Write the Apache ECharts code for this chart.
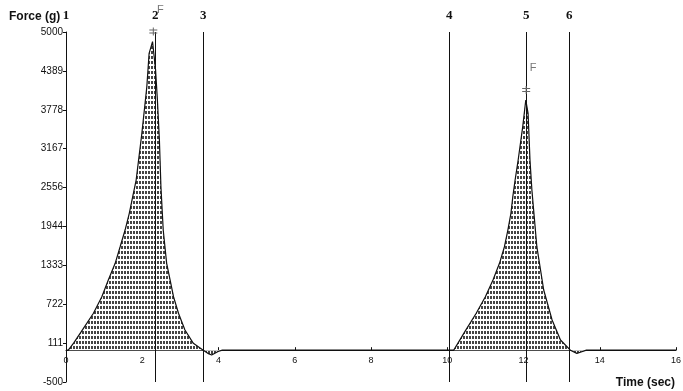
<!DOCTYPE html>
<html><head><meta charset="utf-8">
<script src="https://cdn.jsdelivr.net/npm/echarts@6/dist/echarts.min.js"></script>
<style>html,body{margin:0;padding:0;background:#fff}#c{width:683px;height:391px}</style>
</head><body><div id="c"></div>
<script>
// Time (sec) and force (g)
const timeSec = [0, 0.06, 0.2, 0.41, 0.72, 0.94, 1.11, 1.29, 1.42, 1.55, 1.66, 1.75, 1.84, 1.99, 2.12, 2.18, 2.27, 2.31, 2.35, 2.40, 2.45, 2.49, 2.55, 2.64, 2.73, 2.82, 2.95, 3.12, 3.34, 3.6, 3.72, 3.82, 3.99, 4.1,
  10.17, 10.25, 10.47, 10.76, 11.0, 11.2, 11.37, 11.5, 11.59, 11.67, 11.72, 11.78, 11.86, 11.98, 12.06, 12.09, 12.12, 12.17, 12.22, 12.35, 12.53, 12.75, 12.97, 13.23, 13.4, 13.53, 13.65, 16];
const forceG = [0, 0, 110, 300, 580, 840, 1103, 1365, 1626, 1888, 2151, 2412, 2674, 3408, 4140, 4665, 4850, 4850, 4400, 3900, 3300, 2569, 1888, 1365, 1103, 840, 580, 317, 108, 0, -50, -76, -20, 0,
  0, 80, 300, 580, 840, 1103, 1365, 1626, 1888, 2151, 2412, 2674, 2988, 3512, 3931, 3931, 3722, 2988, 2517, 1626, 946, 474, 160, 0, -50, -25, 0, 0];
const yTickLabels = ['-500', '111', '722', '1333', '1944', '2556', '3167', '3778', '4389', '5000'];
const xTickLabels = ['0', '2', '4', '6', '8', '10', '12', '14', '16'];
const markerTimes = [0, 2.34, 3.6, 10.05, 12.07, 13.2];
const markerLabels = ['1', '2', '3', '4', '5', '6'];
const peakTimes = [2.29, 12.07];
const peakForces = [4850, 3931];

const yMin = -500, yMax = 5000;
const yStep = (yMax - yMin) / (yTickLabels.length - 1);
const yTickValues = yTickLabels.map((_, i) => yMin + i * yStep);

const pc = document.createElement('canvas');
pc.width = 3; pc.height = 5;
const pctx = pc.getContext('2d');
pctx.fillStyle = '#ffffff'; pctx.fillRect(0, 0, 3, 5);
pctx.fillStyle = '#444444'; pctx.fillRect(1, 1, 2, 3);

const chart = echarts.init(document.getElementById('c'), null, {renderer: 'canvas'});
const markerPath = 'path://M0,2L8,2L8,3L0,3Z M0,5L8,5L8,6L0,6Z M3.5,0L4.5,0L4.5,8L3.5,8Z';
const peakPoints = [];
peakTimes.forEach((t, i) => {
  peakPoints.push({coord: [t, peakForces[i]], symbol: markerPath, symbolSize: [8, 8], symbolOffset: [0, -10], itemStyle: {color: '#666'}, label: {show: false}});
  peakPoints.push({coord: [t, peakForces[i]], symbol: 'circle', symbolSize: 0, label: {show: true, formatter: 'F', offset: [7, -32], color: '#777', fontSize: 11, fontFamily: 'Liberation Sans'}});
});

chart.setOption({
  animation: false,
  backgroundColor: '#ffffff',
  title: [
    {text: 'Force (g)', left: 4, top: 6, textStyle: {fontFamily: 'Liberation Sans', fontWeight: 'bold', fontSize: 12, color: '#111'}},
    {text: 'Time (sec)', right: 3, top: 372, textStyle: {fontFamily: 'Liberation Sans', fontWeight: 'bold', fontSize: 12, color: '#111'}}
  ],
  grid: [
    {left: 66, right: 7, top: 32, bottom: 9, outerBoundsMode: 'none', containLabel: false},
    {left: 66, right: 7, top: 32, bottom: 40, outerBoundsMode: 'none', containLabel: false}
  ],
  xAxis: [{
    type: 'value', min: 0, max: 16, interval: 2, gridIndex: 0,
    axisLine: {onZero: true, lineStyle: {color: '#111', width: 1}},
    axisTick: {inside: true, length: 3, lineStyle: {color: '#111'}},
    axisLabel: {show: false},
    splitLine: {show: false}
  }, {
    type: 'value', min: 0, max: 16, interval: 2, gridIndex: 1, position: 'bottom',
    axisLine: {show: false, onZero: false},
    axisTick: {show: false},
    axisLabel: {margin: 5, fontSize: 9, color: '#111', fontFamily: 'Liberation Sans',
      formatter: v => xTickLabels[Math.round(v / 2)]},
    splitLine: {show: false}
  }],
  yAxis: [{
    type: 'value', min: yMin, max: yMax, gridIndex: 0,
    axisLine: {show: true, onZero: false, lineStyle: {color: '#111', width: 1}},
    axisTick: {show: true, length: 3, customValues: yTickValues, lineStyle: {color: '#111'}},
    axisLabel: {margin: 3, fontSize: 10, color: '#111', fontFamily: 'Liberation Sans', customValues: yTickValues,
      formatter: v => yTickLabels[Math.round((v - yMin) / yStep)]},
    splitLine: {show: false}
  }, {
    type: 'value', min: 0, max: 1, gridIndex: 1, show: false
  }],
  series: [{
    type: 'line',
    xAxisIndex: 0, yAxisIndex: 0,
    data: timeSec.map((t, i) => [t, forceG[i]]),
    showSymbol: false,
    lineStyle: {color: '#111', width: 1.2},
    areaStyle: {color: {image: pc, repeat: 'repeat'}, opacity: 1, origin: 0},
    markLine: {
      silent: true, symbol: 'none',
      lineStyle: {color: '#111', width: 1, type: 'solid'},
      label: {show: true, position: 'end', distance: 10, formatter: p => p.name,
        fontFamily: 'Liberation Serif', fontWeight: 'bold', fontSize: 13, color: '#111'},
      data: markerTimes.map((t, i) => ({xAxis: t, name: markerLabels[i]}))
    },
    markPoint: {silent: true, data: peakPoints}
  }]
});
</script></body></html>
